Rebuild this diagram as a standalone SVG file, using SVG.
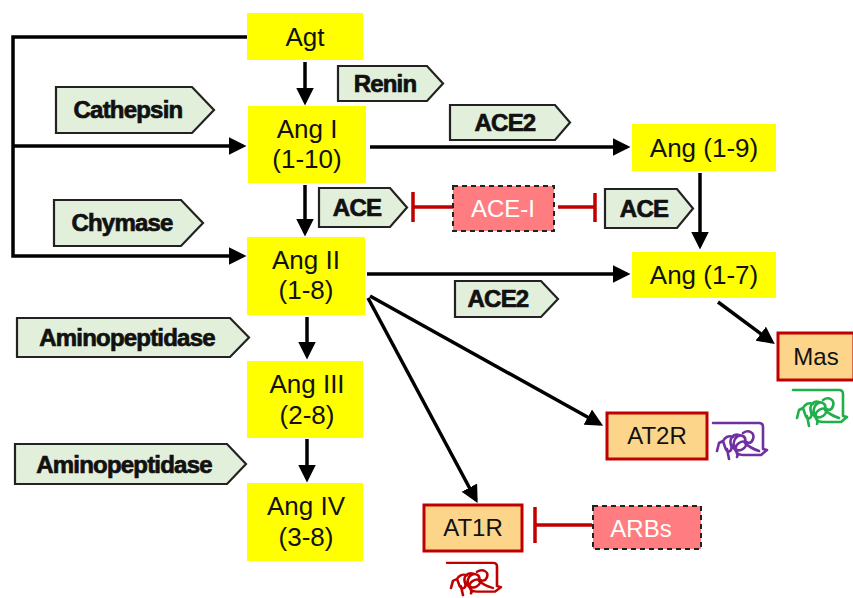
<svg xmlns="http://www.w3.org/2000/svg" width="853" height="598" viewBox="0 0 853 598">
<style>
.node{fill:#ffff00}
.nt{font-family:"Liberation Sans",Arial,sans-serif;font-size:26px;fill:#111;text-anchor:middle}
.enz{fill:#e2efda;stroke:#222;stroke-width:2.2}
.et{font-family:"Liberation Sans",Arial,sans-serif;font-size:24px;font-weight:bold;letter-spacing:-0.8px;fill:#111;stroke:#111;stroke-width:0.7;text-anchor:middle}
.rec{fill:#fdd58a;stroke:#c00000;stroke-width:3}
.rt{font-family:"Liberation Sans",Arial,sans-serif;font-size:24px;fill:#111;text-anchor:middle}
.drug{fill:#ff7c80;stroke:#222;stroke-width:2;stroke-dasharray:5 4}
.dt{font-family:"Liberation Sans",Arial,sans-serif;font-size:24px;fill:#fff;text-anchor:middle}
.con{fill:none;stroke:#000;stroke-width:3.5}
.inh{fill:none;stroke:#c00000;stroke-width:3.5}
.glyph{fill:none;stroke-width:2.6;stroke-linecap:round;stroke-linejoin:round}
</style>
<defs>
<marker id="ah" markerWidth="5" markerHeight="5" refX="4" refY="2.5" orient="auto" markerUnits="strokeWidth">
<path d="M0,0 L5,2.5 L0,5 z" fill="#000"/>
</marker>
<path id="rglyph" d="M0,2 H46 Q50,2 50,6 V28 L54,29 L48,34 H30 C22,34 20,26 26,22 C32,18 36,24 30,28 C24,32 18,26 22,18 C26,12 34,14 32,22 C36,26 40,28 46,30 M26,14 C20,12 16,18 18,24 C20,30 14,34 12,26 L10,20 L6,22 L4,30 M10,20 C12,16 16,14 20,16 M14,28 L16,38 M30,12 C36,8 42,12 40,18 C38,24 32,22 32,18 M18,24 C22,28 26,32 24,36"/>
</defs>

<g id="connectors">
<path class="con" d="M247,37 H13 V256 H243" marker-end="url(#ah)"/>
<path class="con" d="M13,146 H243" marker-end="url(#ah)"/>
<path class="con" d="M305,62 V102" marker-end="url(#ah)"/>
<path class="con" d="M305,185 V233" marker-end="url(#ah)"/>
<path class="con" d="M370,147 H627" marker-end="url(#ah)"/>
<path class="con" d="M700,173 V246" marker-end="url(#ah)"/>
<path class="con" d="M367,274 H627" marker-end="url(#ah)"/>
<path class="con" d="M307,317 V356" marker-end="url(#ah)"/>
<path class="con" d="M307,439 V479" marker-end="url(#ah)"/>
<path class="con" d="M370,296 L600,424" marker-end="url(#ah)"/>
<path class="con" d="M368,298 L476,500" marker-end="url(#ah)"/>
<path class="con" d="M718,302 L772,342" marker-end="url(#ah)"/>
<path class="inh" d="M453,207 H413 M413,192 V222"/>
<path class="inh" d="M558,207 H595 M595,193 V222"/>
<path class="inh" d="M592,525 H535 M535,507 V543"/>
</g>

<g id="agt"><rect class="node" x="247" y="13" width="116" height="47"/><text class="nt" x="305" y="46">Agt</text></g>
<g id="ang1"><rect class="node" x="248" y="106" width="118" height="77"/><text class="nt" x="307" y="138">Ang I</text><text class="nt" x="307" y="168">(1-10)</text></g>
<g id="ang2"><rect class="node" x="247" y="237" width="118" height="78"/><text class="nt" x="306" y="269">Ang II</text><text class="nt" x="306" y="299">(1-8)</text></g>
<g id="ang3"><rect class="node" x="247" y="361" width="116" height="77"/><text class="nt" x="307" y="393">Ang III</text><text class="nt" x="307" y="424">(2-8)</text></g>
<g id="ang4"><rect class="node" x="247" y="483" width="116" height="78"/><text class="nt" x="306" y="515">Ang IV</text><text class="nt" x="306" y="546">(3-8)</text></g>
<g id="ang19"><rect class="node" x="632" y="124" width="144" height="47"/><text class="nt" x="704" y="157">Ang (1-9)</text></g>
<g id="ang17"><rect class="node" x="632" y="252" width="144" height="46"/><text class="nt" x="704" y="284">Ang (1-7)</text></g>

<g id="renin"><polygon class="enz" points="338,66 427,66 443,83.5 427,101 338,101"/><text class="et" x="385" y="92">Renin</text></g>
<g id="cathepsin"><polygon class="enz" points="56,87 192,87 214,110 192,133 56,133"/><text class="et" x="128" y="118">Cathepsin</text></g>
<g id="chymase"><polygon class="enz" points="54,200 181,200 203,223 181,246 54,246"/><text class="et" x="122" y="231">Chymase</text></g>
<g id="ace_left"><polygon class="enz" points="319,188 390,188 407,207.5 390,227 319,227"/><text class="et" x="357" y="216">ACE</text></g>
<g id="ace_right"><polygon class="enz" points="605,189 677,189 693,208.5 677,228 605,228"/><text class="et" x="644" y="217">ACE</text></g>
<g id="ace2_top"><polygon class="enz" points="450,105 555,105 570,122.5 555,140 450,140"/><text class="et" x="505" y="131">ACE2</text></g>
<g id="ace2_bottom"><polygon class="enz" points="455,281 541,281 558,299 541,317 455,317"/><text class="et" x="498" y="307">ACE2</text></g>
<g id="aminopeptidase1"><polygon class="enz" points="17,318 230,318 249,337.5 230,357 17,357"/><text class="et" x="127" y="346">Aminopeptidase</text></g>
<g id="aminopeptidase2"><polygon class="enz" points="15,444 227,444 246,464 227,484 15,484"/><text class="et" x="124" y="473">Aminopeptidase</text></g>

<g id="acei"><rect class="drug" x="453" y="186" width="101" height="45"/><text class="dt" x="503" y="217">ACE-I</text></g>
<g id="arbs"><rect class="drug" x="593" y="506" width="108" height="43"/><text class="dt" x="641" y="537">ARBs</text></g>

<g id="mas"><rect class="rec" x="778" y="333" width="76" height="47"/><text class="rt" x="816" y="365">Mas</text><use href="#rglyph" class="glyph" stroke="#1fb04a" transform="translate(793,388)"/></g>
<g id="at2r"><rect class="rec" x="607" y="413" width="100" height="46"/><text class="rt" x="657" y="444">AT2R</text><use href="#rglyph" class="glyph" stroke="#7030a0" transform="translate(713,421)"/></g>
<g id="at1r"><rect class="rec" x="424" y="505" width="98" height="46"/><text class="rt" x="473" y="536">AT1R</text><use href="#rglyph" class="glyph" stroke="#c00000" transform="translate(447,561) scale(1,0.9)"/></g>
</svg>
